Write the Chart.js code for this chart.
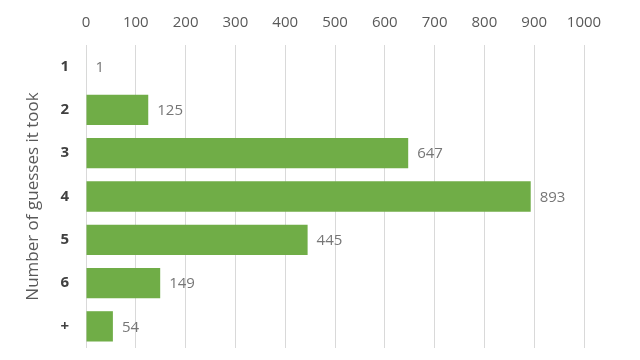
<!DOCTYPE html>
<html>
<head>
<meta charset="utf-8">
<script src="https://cdn.jsdelivr.net/npm/chart.js@4/dist/chart.umd.min.js"></script>
<style>
  html, body { margin: 0; padding: 0; background: #fff; }
  canvas { display: block; }
</style>
</head>
<body>
<canvas id="guessChart" width="640" height="360"></canvas>
<script>
// dados
const guessLabels = ['1', '2', '3', '4', '5', '6', '+'];
const guessCounts = [1, 125, 647, 893, 445, 149, 54];
const axisTicks = [0, 100, 200, 300, 400, 500, 600, 700, 800, 900, 1000];

// rótulos de valor ao lado de cada barra
const valueLabels = {
    id: 'valueLabels',
    afterDatasetsDraw(chart) {
        const ctx = chart.ctx;
        const meta = chart.getDatasetMeta(0);
        ctx.save();
        ctx.font = '15px "Open Sans"';
        ctx.fillStyle = '#767676';
        ctx.textAlign = 'left';
        ctx.textBaseline = 'middle';
        meta.data.forEach((bar, i) => {
            ctx.fillText(String(guessCounts[i]), bar.x + 9, bar.y + 1);
        });
        ctx.restore();
    }
};

new Chart(document.getElementById('guessChart'), {
    type: 'bar',
    data: {
        labels: guessLabels,
        datasets: [{
            data: guessCounts,
            backgroundColor: '#70AD47',
            borderWidth: 0,
            categoryPercentage: 0.8,
            barPercentage: 0.875
        }]
    },
    options: {
        indexAxis: 'y',
        responsive: false,
        animation: false,
        layout: { padding: { left: 0, right: 56, top: 0, bottom: 12 } },
        scales: {
            x: {
                position: 'top',
                min: 0,
                max: 1000,
                afterBuildTicks: (axis) => { axis.ticks = axisTicks.map(v => ({ value: v })); },
                afterFit: (axis) => { axis.height = 45; },
                ticks: {
                    color: '#595959',
                    font: { family: '"Open Sans"', size: 15 },
                    padding: 13,
                    autoSkip: false,
                    maxRotation: 0,
                    callback: (v) => String(v)
                },
                grid: { color: '#d9d9d9', drawTicks: false },
                border: { display: false }
            },
            y: {
                afterFit: (axis) => {
                    axis.width = 86;
                    axis.paddingTop = 0;
                    axis.paddingBottom = 0;
                },
                ticks: {
                    color: '#404040',
                    font: { family: '"Open Sans"', size: 15, weight: 'bold' },
                    padding: 17
                },
                grid: { display: false, drawTicks: false },
                border: { display: false },
                title: {
                    display: true,
                    text: 'Number of guesses it took',
                    color: '#595959',
                    font: { family: '"Open Sans"', size: 17 },
                    padding: { top: 23, bottom: 0 }
                }
            }
        },
        plugins: {
            legend: { display: false },
            tooltip: { enabled: false }
        }
    },
    plugins: [valueLabels]
});
</script>
</body>
</html>
